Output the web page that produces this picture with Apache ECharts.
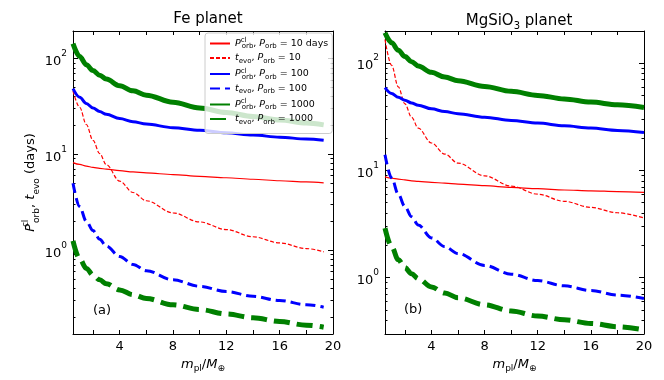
<!DOCTYPE html>
<html>
<head>
<meta charset="utf-8">
<script src="https://cdn.jsdelivr.net/npm/echarts@6/dist/echarts.min.js"></script>
<style>html,body{margin:0;padding:0;background:#fff}#chart{width:664px;height:380px}</style>
</head>
<body>
<div id="chart"></div>
<script>
// planet mass m_pl / M_earth
var massFe = [0.5, 1, 1.5, 2, 2.5, 3, 4, 5, 6, 8, 10, 12, 14, 16, 18, 19.3];
var massMg = [0.5, 1, 1.5, 2, 2.5, 3, 4, 5, 6, 8, 10, 12, 14, 16, 18, 20];

// (a) Fe planet, days
var fePcl10    = [8.2, 7.85, 7.55, 7.3, 7.15, 7.0, 6.75, 6.55, 6.4, 6.15, 5.9, 5.7, 5.5, 5.3, 5.15, 5.05];
var feTevo10   = [46, 31, 20.5, 14, 10.2, 7.8, 5.25, 4.0, 3.28, 2.45, 1.97, 1.64, 1.38, 1.19, 1.04, 0.96];
var fePcl100   = [48.5, 39.5, 34, 30.5, 28, 26.2, 23.6, 21.9, 20.7, 19.0, 17.8, 16.8, 15.9, 15.1, 14.45, 14.0];
var feTevo100  = [5.0, 2.85, 2.0, 1.6, 1.3, 1.1, 0.86, 0.71, 0.61, 0.49, 0.42, 0.37, 0.33, 0.298, 0.27, 0.254];
var fePcl1000  = [143, 105, 86, 75, 67, 61, 52, 46, 41.5, 35, 30.5, 27.3, 24.8, 22.8, 21.2, 20.3];
var feTevo1000 = [1.25, 0.81, 0.645, 0.55, 0.49, 0.447, 0.385, 0.343, 0.313, 0.269, 0.24, 0.216, 0.197, 0.18, 0.165, 0.157];

// (b) MgSiO3 planet, days
var mgPcl10    = [8.7, 8.45, 8.3, 8.15, 8.0, 7.9, 7.75, 7.6, 7.45, 7.2, 6.95, 6.75, 6.57, 6.45, 6.35, 6.25];
var mgTevo10   = [166, 95, 60, 41.7, 31.3, 24.8, 18.0, 14.2, 11.7, 8.9, 7.15, 6.0, 5.15, 4.52, 4.03, 3.6];
var mgPcl100   = [59, 52, 48, 45, 42.5, 40.5, 37.5, 35.3, 33.8, 31.3, 29.2, 27.6, 26, 24.8, 23.6, 22.5];
var mgTevo100  = [14, 8.5, 6.0, 4.6, 3.7, 3.1, 2.35, 1.95, 1.68, 1.3, 1.08, 0.94, 0.84, 0.76, 0.69, 0.64];
var mgPcl1000  = [192, 155, 132, 115, 103, 94, 82, 74, 68.5, 60.5, 54.5, 50, 46.3, 43.3, 40.8, 38.5];
var mgTevo1000 = [2.9, 1.95, 1.47, 1.24, 1.09, 0.98, 0.82, 0.72, 0.65, 0.56, 0.49, 0.44, 0.405, 0.375, 0.35, 0.327];

var xTicks = [2, 4, 6, 8, 10, 12, 14, 16, 18, 20];
var xLabels = [4, 8, 12, 16, 20];
var yMinorBase = [2, 3, 4, 5, 6, 7, 8, 9];

var FONT = 'DejaVu Sans';
var myChart = echarts.init(document.getElementById('chart'));

var lineDefs = [
    {key: 'pcl10',    color: '#ff0000', width: 1.2, dash: 'solid'},
    {key: 'tevo10',   color: '#ff0000', width: 1.2, dash: [4, 2]},
    {key: 'pcl100',   color: '#0000ff', width: 3,   dash: 'solid'},
    {key: 'tevo100',  color: '#0000ff', width: 3,   dash: [10, 5]},
    {key: 'pcl1000',  color: '#008000', width: 5,   dash: 'solid'},
    {key: 'tevo1000', color: '#008000', width: 5,   dash: [16, 7]}
];
var legendText = {
    pcl10:    '{i|P}{sup|cl}{sub|orb}{n|, }{i|P}{sub|orb}{n| = 10 days}',
    tevo10:   '{i|t}{sub|evo}{n|, }{i|P}{sub|orb}{n| = 10}',
    pcl100:   '{i|P}{sup|cl}{sub|orb}{n|, }{i|P}{sub|orb}{n| = 100}',
    tevo100:  '{i|t}{sub|evo}{n|, }{i|P}{sub|orb}{n| = 100}',
    pcl1000:  '{i|P}{sup|cl}{sub|orb}{n|, }{i|P}{sub|orb}{n| = 1000}',
    tevo1000: '{i|t}{sub|evo}{n|, }{i|P}{sub|orb}{n| = 1000}'
};

function pairs(xs, ys) {
    return xs.map(function (x, i) { return [x, ys[i]]; });
}
function minorLogs(lo, hi) {
    var out = [];
    for (var p = -2; p <= 3; p++) {
        yMinorBase.forEach(function (b) {
            var v = b * Math.pow(10, p);
            if (v > lo && v < hi) out.push(Math.log10(v));
        });
    }
    return out;
}
function yLabel(v) {
    var l = Math.log10(v), e = Math.round(l);
    if (Math.abs(l - e) > 1e-6) return '';
    return '{b|10}{s|' + e + '}';
}

var tickLine = {color: '#000', width: 1};
var lineAxis = {show: true, onZero: false, lineStyle: {color: '#000', width: 1}};

function xAxes(grid) {
    return [{
        type: 'value', gridIndex: grid, position: 'bottom', min: 0.5, max: 20,
        axisLine: lineAxis, splitLine: {show: false},
        axisTick: {inside: true, length: 4, customValues: xTicks, lineStyle: tickLine},
        axisLabel: {customValues: xLabels, margin: 6, fontSize: 13, color: '#000', fontFamily: FONT},
        name: '{i|m}{sub|pl}{n|/}{i|M}{sub|⊕}', nameLocation: 'middle', nameGap: 17,
        nameTextStyle: {color: '#000', fontFamily: FONT, rich: {
            i: {fontSize: 13, fontStyle: 'italic', lineHeight: 18, fontFamily: FONT},
            n: {fontSize: 13, lineHeight: 18, fontFamily: FONT},
            sub: {fontSize: 9, lineHeight: 9, verticalAlign: 'bottom', fontFamily: FONT}
        }}
    }, {
        type: 'value', gridIndex: grid, position: 'top', min: 0.5, max: 20,
        axisLine: lineAxis, splitLine: {show: false},
        axisTick: {inside: true, length: 4, customValues: xTicks, lineStyle: tickLine},
        axisLabel: {show: false}
    }];
}

function yAxes(grid, lo, hi, withName) {
    var major = {
        type: 'log', logBase: 10, gridIndex: grid, min: lo, max: hi,
        axisLine: lineAxis, splitLine: {show: false}, minorTick: {show: false},
        axisTick: {inside: true, length: 5, lineStyle: tickLine}
    };
    var minor = {
        type: 'value', gridIndex: grid, min: Math.log10(lo), max: Math.log10(hi),
        axisLine: {show: false, onZero: false}, splitLine: {show: false}, axisLabel: {show: false},
        axisTick: {inside: true, length: 2.5, customValues: minorLogs(lo, hi), lineStyle: tickLine}
    };
    var left = Object.assign({}, major, {
        position: 'left',
        axisLabel: {formatter: yLabel, margin: 6, color: '#000', rich: {
            b: {fontSize: 13, lineHeight: 19, verticalAlign: 'bottom', fontFamily: FONT},
            s: {fontSize: 9, lineHeight: 9, verticalAlign: 'top', fontFamily: FONT}
        }}
    });
    if (withName) {
        left.name = '{i|P}{sup|cl}{sub|orb}{n|, }{i|t}{sub|evo}{n| (days)}';
        left.nameLocation = 'middle';
        left.nameGap = 32;
        left.nameTextStyle = {color: '#000', fontFamily: FONT, rich: {
            i: {fontSize: 13, fontStyle: 'italic', lineHeight: 20, fontFamily: FONT},
            n: {fontSize: 13, lineHeight: 20, fontFamily: FONT},
            sup: {fontSize: 9, lineHeight: 9, verticalAlign: 'top', width: 1, fontFamily: FONT},
            sub: {fontSize: 9, lineHeight: 9, verticalAlign: 'bottom', fontFamily: FONT}
        }};
    }
    var right = Object.assign({}, major, {position: 'right', axisLabel: {show: false}});
    return [left,
        Object.assign({}, minor, {position: 'left'}),
        right,
        Object.assign({}, minor, {position: 'right'})];
}

function panelSeries(xs, ys, xIdx, yIdx, suffix) {
    return lineDefs.map(function (d, i) {
        return {
            name: d.key + suffix, type: 'line', xAxisIndex: xIdx, yAxisIndex: yIdx,
            data: pairs(xs, ys[i]), symbol: 'none', smooth: 0.35, smoothMonotone: 'x',
            lineStyle: {color: d.color, width: d.width, type: d.dash, cap: 'butt'},
            itemStyle: {color: d.color}, z: 2 + i
        };
    });
}

var option = {
    backgroundColor: '#fff',
    animation: false,
    textStyle: {fontFamily: FONT},
    title: [{
        text: 'Fe planet', left: 203, top: 7, textAlign: 'center',
        textStyle: {fontSize: 15, fontWeight: 'normal', color: '#000', fontFamily: FONT}
    }, {
        text: '{n|MgSiO}{sub|3}{n| planet}', left: 514, top: 6, textAlign: 'center',
        textStyle: {color: '#000', fontWeight: 'normal', fontFamily: FONT, rich: {
            n: {fontSize: 15, fontWeight: 'normal', lineHeight: 20, fontFamily: FONT},
            sub: {fontSize: 10, fontWeight: 'normal', lineHeight: 10, verticalAlign: 'bottom', fontFamily: FONT}
        }}
    }],
    grid: [
        {left: 73, top: 31, width: 260, height: 303},
        {left: 385, top: 31, width: 259, height: 303}
    ],
    legend: {
        data: lineDefs.map(function (d) { return d.key; }),
        orient: 'vertical', left: 205, top: 33, z: 10,
        itemWidth: 20, itemHeight: 10, itemGap: 3, selectedMode: false,
        padding: [4, 4, 8, 4],
        itemStyle: {opacity: 0},
        backgroundColor: 'rgba(255,255,255,0.8)', borderColor: '#cccccc', borderWidth: 1, borderRadius: 3,
        formatter: function (name) { return legendText[name]; },
        textStyle: {color: '#000', fontFamily: FONT, rich: {
            i: {fontSize: 9.5, fontStyle: 'italic', lineHeight: 13, fontFamily: FONT},
            n: {fontSize: 9.5, lineHeight: 13, fontFamily: FONT},
            sup: {fontSize: 7, lineHeight: 7, verticalAlign: 'top', width: 1, fontFamily: FONT},
            sub: {fontSize: 7, lineHeight: 7, verticalAlign: 'bottom', fontFamily: FONT}
        }}
    },
    xAxis: xAxes(0).concat(xAxes(1)),
    yAxis: yAxes(0, 0.1334, 193.8, true).concat(yAxes(1, 0.299, 199, false)),
    graphic: [
        {type: 'text', left: 93, top: 304, style: {text: '(a)', fontSize: 13, fill: '#000', fontFamily: FONT}},
        {type: 'text', left: 404, top: 303, style: {text: '(b)', fontSize: 13, fill: '#000', fontFamily: FONT}}
    ],
    series: panelSeries(massFe, [fePcl10, feTevo10, fePcl100, feTevo100, fePcl1000, feTevo1000], 0, 0, '')
        .concat(panelSeries(massMg, [mgPcl10, mgTevo10, mgPcl100, mgTevo100, mgPcl1000, mgTevo1000], 2, 4, '_b'))
};
myChart.setOption(option);
</script>
</body>
</html>
